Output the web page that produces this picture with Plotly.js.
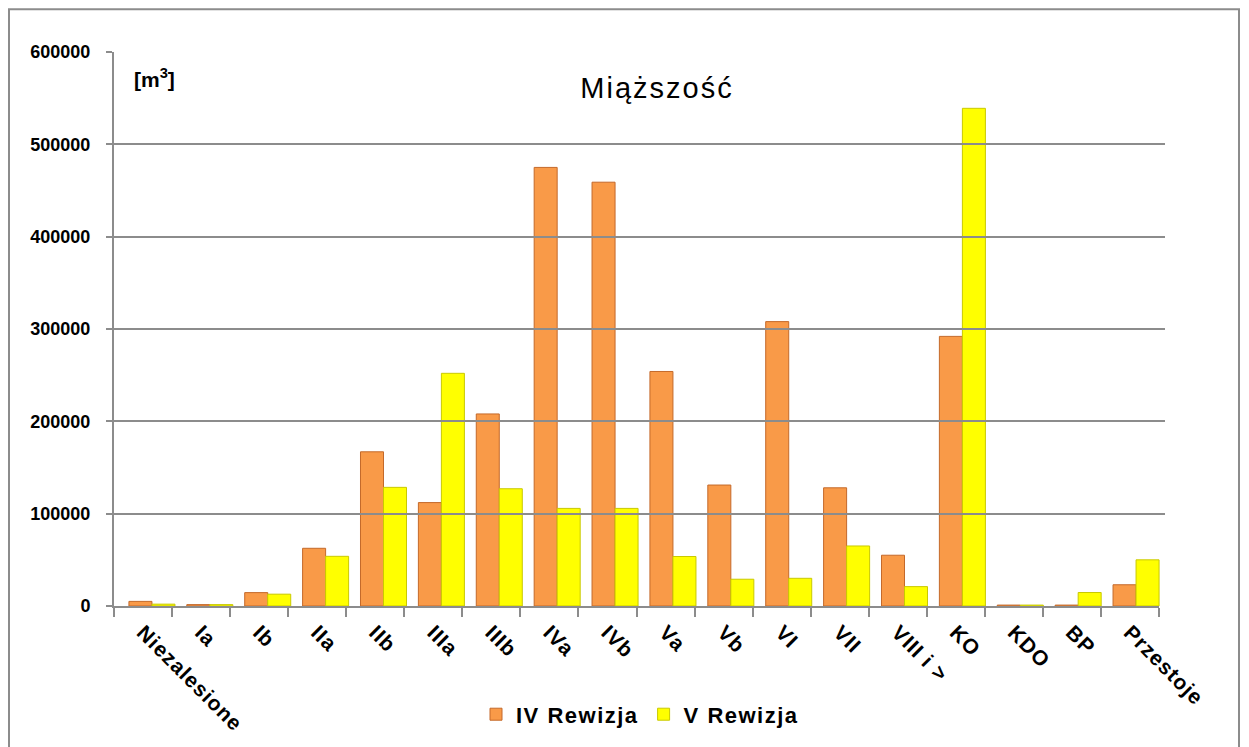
<!DOCTYPE html>
<html>
<head>
<meta charset="utf-8">
<script src="https://cdn.plot.ly/plotly-3.0.1.min.js"></script>
<style>
  html, body { margin: 0; padding: 0; background: #fff; }
  #chart { width: 1249px; height: 747px; }
  .x2tick text { letter-spacing: 1px; }
  .legendtext { letter-spacing: 1.5px; }
  .gtitle { letter-spacing: 2px; }
</style>
</head>
<body>
<div id="chart"></div>
<script>
// ---- data ----
const categories = ['Niezalesione','Ia','Ib','IIa','IIb','IIIa','IIIb','IVa','IVb','Va','Vb','VI','VII','VIII i >','KO','KDO','BP','Przestoje'];
const seriesIV = [5000, 1500, 14500, 62500, 167000, 112000, 208000, 475000, 459000, 254000, 131000, 308000, 128000, 55000, 292000, 1000, 1000, 23000];
const seriesV  = [2000, 1500, 12800, 53800, 128500, 252000, 127000, 105700, 105700, 53600, 29000, 30000, 65000, 21000, 539000, 1000, 14600, 50000];
const seriesNames = ['IV Rewizja', 'V Rewizja'];
const yTickValues = [0, 100000, 200000, 300000, 400000, 500000, 600000];

// ---- layout geometry (pixels) ----
const W = 1249, H = 747;
const ml = 114, mr = 73, mt = 52, mb = 138;
const pw = W - ml - mr, ph = H - mt - mb;
const px = x => (x - ml) / pw;
const py = y => (H - mb - y) / ph;

const grid = '#8c8c8c';

const traces = [
  {
    type: 'bar', name: seriesNames[0], x: categories, y: seriesIV,
    xaxis: 'x', yaxis: 'y',
    marker: { color: '#F99A48', line: { color: '#C4692A', width: 1 } },
    hoverinfo: 'x+y'
  },
  {
    type: 'bar', name: seriesNames[1], x: categories, y: seriesV,
    xaxis: 'x', yaxis: 'y',
    marker: { color: '#FFFF00', line: { color: '#C9C900', width: 1 } },
    hoverinfo: 'x+y'
  },
  {
    // carrier for the category axis that shows the labels (front edge of the floor)
    type: 'scatter', mode: 'markers', x: categories, y: categories.map(() => 0),
    xaxis: 'x2', yaxis: 'y', marker: { opacity: 0 }, showlegend: false, hoverinfo: 'skip'
  }
];

const layout = {
  width: W, height: H,
  margin: { l: ml, r: mr, t: mt, b: mb, pad: 0 },
  paper_bgcolor: '#ffffff',
  plot_bgcolor: 'rgba(0,0,0,0)',
  font: { family: 'Liberation Sans, Arial, sans-serif', color: '#000' },
  title: {
    text: 'Miąższość',
    font: { family: 'Liberation Sans, Arial, sans-serif', size: 29, color: '#000' },
    xref: 'paper', yref: 'paper', x: px(657), y: py(88),
    xanchor: 'center', yanchor: 'middle'
  },
  barmode: 'group', bargap: 0.205, bargroupgap: 0,
  showlegend: true,
  legend: {
    orientation: 'h', x: px(640), xanchor: 'center', y: py(718), yanchor: 'middle',
    font: { family: 'Liberation Sans, Arial, sans-serif', size: 22, weight: 'bold', color: '#000' },
    bgcolor: 'rgba(0,0,0,0)', itemclick: false, itemwidth: 30
  },
  xaxis: {
    domain: [px(123), px(1165)], anchor: 'y', type: 'category',
    categoryarray: categories, categoryorder: 'array', range: [-0.5, 17.5],
    showticklabels: false, ticks: '', showline: false, showgrid: false, zeroline: false,
    fixedrange: true
  },
  xaxis2: {
    domain: [0, px(1159)], anchor: 'y', type: 'category',
    categoryarray: categories, categoryorder: 'array', range: [-0.5, 17.5],
    tickson: 'boundaries', ticks: 'outside', ticklen: 9, tickwidth: 2, tickcolor: grid,
    showline: true, linecolor: grid, linewidth: 2, showgrid: false, zeroline: false,
    tickangle: 45, ticklabelstandoff: 4,
    tickfont: { family: 'Liberation Sans, Arial, sans-serif', size: 21, weight: 'bold', color: '#000' },
    fixedrange: true
  },
  yaxis: {
    domain: [0, 1], anchor: 'x2', range: [0, 600000],
    tickvals: yTickValues, tickformat: 'd',
    ticks: 'outside', ticklen: 6, tickwidth: 2, tickcolor: grid,
    ticklabelstandoff: 12,
    showline: true, linecolor: grid, linewidth: 2,
    showgrid: true, gridcolor: grid, gridwidth: 2, zeroline: false,
    tickfont: { family: 'Liberation Sans, Arial, sans-serif', size: 18, weight: 'bold', color: '#000' },
    fixedrange: true
  },
  annotations: [
    {
      text: '<b>[m<sup>3</sup>]</b>', xref: 'paper', yref: 'paper',
      x: px(154), y: py(78), xanchor: 'center', yanchor: 'middle', showarrow: false,
      font: { family: 'Liberation Sans, Arial, sans-serif', size: 21, color: '#000' }
    }
  ],
  shapes: [
    {
      type: 'rect', xref: 'paper', yref: 'paper',
      x0: px(9), x1: px(1239), y0: py(770), y1: py(9),
      line: { color: '#8c8c8c', width: 2 }, fillcolor: 'rgba(0,0,0,0)', layer: 'below'
    }
  ]
};

Plotly.newPlot('chart', traces, layout, { displayModeBar: false, staticPlot: true });
</script>
</body>
</html>
